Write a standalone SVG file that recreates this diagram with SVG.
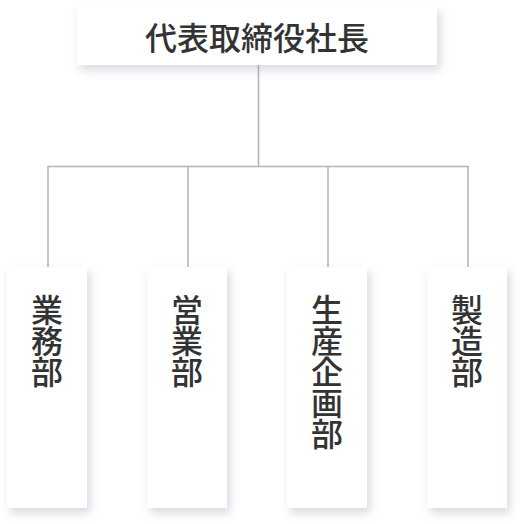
<svg xmlns="http://www.w3.org/2000/svg" width="520" height="524" viewBox="0 0 520 524">
<defs>
<filter id="sh" x="-30%" y="-30%" width="160%" height="160%">
<feDropShadow dx="3" dy="5" stdDeviation="5" flood-color="#8a93a8" flood-opacity="0.35"/>
</filter>
<style>
.box{fill:#ffffff;filter:url(#sh);}
.lbl{font-family:"Noto Sans CJK JP","Noto Sans CJK SC",sans-serif;font-size:32px;font-weight:500;fill:#333333;text-anchor:middle;}
.v{font-family:"Noto Sans CJK JP","Noto Sans CJK SC",sans-serif;font-size:32px;font-weight:500;fill:#333333;writing-mode:vertical-rl;text-anchor:start;letter-spacing:-1px;}
.con{stroke:#b3b3b3;stroke-width:1.5;fill:none;}
</style>
</defs>
<rect width="520" height="524" fill="#ffffff"/>
<g id="connectors">
<path class="con" d="M258.5 65 V166.5 M48 166.5 H468 M48 166 V268 M188 166 V268 M328 166 V268 M468 166 V268"/>
</g>
<g id="president">
<rect class="box" x="77" y="6" width="360" height="59"/>
<text class="lbl" x="257" y="50">代表取締役社長</text>
</g>
<g id="gyomu">
<rect class="box" x="7" y="267" width="80" height="241"/>
<text class="v" x="47" y="294">業務部</text>
</g>
<g id="eigyo">
<rect class="box" x="147" y="267" width="80" height="241"/>
<text class="v" x="187" y="294">営業部</text>
</g>
<g id="seisan">
<rect class="box" x="287" y="267" width="80" height="241"/>
<text class="v" x="327" y="294">生産企画部</text>
</g>
<g id="seizo">
<rect class="box" x="427" y="267" width="80" height="241"/>
<text class="v" x="467" y="294">製造部</text>
</g>
</svg>
